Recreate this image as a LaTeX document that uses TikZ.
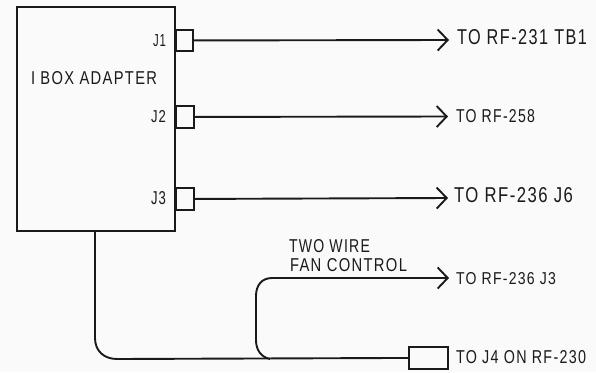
\documentclass[tikz,border=0pt]{standalone}
\usepackage{fontspec}
\usepackage{graphicx}
\setmainfont{Liberation Sans}
\usetikzlibrary{arrows.meta}
\definecolor{ink}{HTML}{1A1A1A}
\definecolor{paper}{HTML}{FAFAFA}
\newcommand{\lbl}[3]{\resizebox{#1pt}{#2pt}{\addfontfeature{LetterSpace=9}#3}}
\tikzset{
  x=1pt,y=-1pt,
  wire/.style={draw=ink,line width=1.9pt},
  arrowwire/.style={wire,-{Straight Barb[length=10pt,width=21pt,line width=1.9pt]}},
  box/.style={draw=ink,line width=1.9pt,fill=paper,inner sep=0pt,anchor=north west},
  txt/.style={inner sep=0pt,outer sep=0pt,text=ink,anchor=west},
  jackl/.style={txt,anchor=east}
}
\begin{document}
\begin{tikzpicture}
\useasboundingbox[fill=paper] (0,0) rectangle (596,372);
\node[box,minimum width=158pt,minimum height=224pt] (adapter) at (16,6) {};
\node[box,minimum width=17pt,minimum height=21pt] (j1) at (175,29) {};
\node[box,minimum width=18pt,minimum height=22pt] (j2) at (175,105) {};
\node[box,minimum width=18pt,minimum height=22pt] (j3) at (175,187) {};
\node[box,minimum width=39pt,minimum height=22pt] (j4) at (408,346) {};
\node[txt] (name) at (31,78.5) {\lbl{126}{13}{I BOX ADAPTER}};
\node[jackl] (lj1) at (166,40.5) {\lbl{13}{12}{J1}};
\node[jackl] (lj2) at (166,116.5) {\lbl{15}{12}{J2}};
\node[jackl] (lj3) at (166,198) {\lbl{15}{13}{J3}};
\node[txt] (t1) at (457,37.5) {\lbl{130}{15}{TO RF-231 TB1}};
\node[txt] (t2) at (456,116) {\lbl{79}{13}{TO RF-258}};
\node[txt] (t3) at (454,195) {\lbl{119}{15}{TO RF-236 J6}};
\node[txt] (t4) at (456,278.5) {\lbl{100}{12}{TO RF-236 J3}};
\node[txt] (t5) at (456,357) {\lbl{130}{13}{TO J4 ON RF-230}};
\node[txt] (two) at (289,246.5) {\lbl{81}{13}{TWO WIRE}};
\node[txt] (fan) at (290,265) {\lbl{117}{13}{FAN CONTROL}};
\coordinate (a1) at (449,40);
\coordinate (a2) at (448,116.5);
\coordinate (a3) at (448,198);
\coordinate (a4) at (449,278);
\coordinate (drop) at (95,230);
\coordinate (junc) at (270,359);
\draw[arrowwire] (j1.east) -- (a1);
\draw[arrowwire] (j2.east) -- (a2);
\draw[arrowwire] (j3.east) -- (a3);
\draw[wire] (drop) -- (95,338) .. controls (95,351) and (104,359) .. (117,359) -- (j4.west);
\draw[arrowwire] (junc) .. controls (261,357) and (256,350) .. (256,340) -- (256,296) .. controls (256,285) and (262,278) .. (272,278) -- (a4);
\end{tikzpicture}
\end{document}
